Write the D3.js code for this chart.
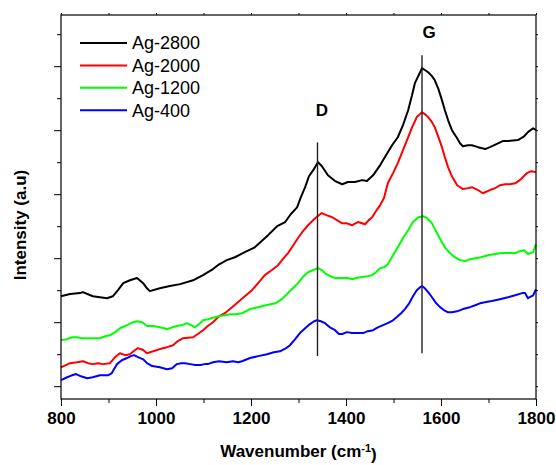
<!DOCTYPE html>
<html>
<head>
<meta charset="utf-8">
<script src="https://cdn.jsdelivr.net/npm/d3@7"></script>
<style>
  body { margin: 0; background: #fff; }
  svg text { font-family: "Liberation Sans", Arial, sans-serif; }
</style>
</head>
<body>
<div id="chart-area"></div>
<script>
// Raman spectra, intensity in arbitrary units (tick = 100)
var ag2800Wn = [800,819,840,846,867,882,897,909,920,931,945,960,973,981,987,1008,1029,1051,1078,1099,1120,1133,1149,1166,1187,1208,1236,1255,1272,1284,1297,1305,1314,1322,1331,1341,1349,1362,1377,1392,1404,1419,1434,1444,1457,1472,1482,1497,1509,1520,1531,1539,1545,1554,1560,1566,1573,1581,1587,1594,1602,1608,1615,1623,1634,1640,1646,1657,1665,1678,1693,1703,1720,1730,1741,1762,1775,1783,1794,1800];
var ag2800Int = [281,288,291,294,281,278,275,281,300,322,331,338,322,306,297,306,313,319,331,347,366,381,394,403,419,434,472,500,513,538,559,591,622,656,675,700,688,659,641,631,638,638,644,641,659,691,716,753,778,816,863,909,947,975,994,988,981,969,956,931,894,863,831,800,775,759,750,753,753,747,741,747,759,766,766,769,781,794,806,800];

var ag2000Wn = [800,819,834,846,857,867,878,888,903,914,924,935,945,956,962,973,981,994,1008,1023,1036,1046,1057,1078,1088,1099,1109,1120,1133,1145,1160,1173,1187,1202,1215,1229,1244,1257,1267,1278,1288,1299,1309,1320,1335,1349,1360,1371,1381,1392,1402,1413,1425,1434,1440,1448,1455,1463,1472,1480,1488,1499,1509,1520,1531,1539,1549,1560,1566,1573,1581,1587,1594,1602,1608,1615,1623,1634,1646,1657,1665,1678,1688,1703,1714,1724,1735,1745,1756,1766,1781,1790,1800];
var ag2000Int = [59,72,75,78,72,69,72,69,72,91,103,97,100,113,119,113,103,109,116,122,128,141,150,153,163,175,188,200,219,228,247,263,281,300,322,347,363,378,397,416,438,463,484,503,525,541,534,528,519,509,509,503,513,509,506,519,528,547,566,588,634,666,697,738,778,809,841,856,850,841,825,809,781,747,716,684,656,628,616,619,622,613,603,613,619,628,631,631,634,644,666,672,669];

var ag1200Wn = [800,813,823,834,844,855,867,882,893,903,914,924,939,952,960,971,981,994,1008,1017,1023,1034,1044,1055,1065,1074,1082,1091,1099,1109,1118,1133,1145,1156,1168,1181,1198,1215,1231,1251,1265,1278,1288,1299,1309,1320,1331,1341,1349,1356,1366,1377,1392,1404,1413,1421,1434,1446,1455,1463,1472,1480,1488,1499,1509,1520,1531,1541,1552,1562,1571,1581,1587,1594,1602,1608,1619,1629,1640,1651,1661,1672,1684,1699,1714,1728,1741,1756,1766,1775,1783,1794,1800];
var ag1200Int = [144,147,153,153,150,150,150,150,156,159,169,181,191,200,203,200,188,188,184,181,178,184,188,191,197,191,184,194,206,209,213,219,222,225,225,228,241,247,253,259,272,291,306,322,341,356,363,369,363,353,344,338,338,338,334,338,341,344,347,356,369,372,381,409,434,463,488,513,528,531,525,509,491,472,450,434,416,403,394,391,397,400,403,409,413,416,416,416,422,425,413,419,444];

var ag400Wn = [800,813,823,832,842,855,867,882,899,907,918,928,939,947,954,962,973,981,992,1008,1023,1034,1044,1053,1061,1072,1082,1093,1103,1109,1120,1133,1149,1162,1173,1181,1198,1215,1234,1248,1261,1274,1282,1293,1303,1314,1324,1333,1339,1347,1356,1366,1377,1385,1392,1402,1413,1425,1436,1446,1457,1467,1478,1488,1499,1507,1516,1524,1533,1541,1549,1556,1560,1566,1573,1581,1590,1598,1606,1615,1623,1634,1646,1661,1672,1682,1695,1707,1724,1741,1756,1771,1777,1783,1794,1800];
var ag400Int = [19,28,34,38,31,25,28,34,34,41,69,81,88,94,97,91,84,72,63,59,53,56,69,72,72,69,66,66,69,69,75,78,75,78,75,78,88,94,100,106,109,119,128,147,166,181,194,203,206,203,197,184,175,163,163,169,166,166,166,172,175,184,191,197,206,216,228,241,259,281,300,309,313,306,294,278,259,247,238,231,231,234,241,247,253,259,263,266,272,278,284,291,291,275,284,303];

var seriesNames = ['Ag-2800', 'Ag-2000', 'Ag-1200', 'Ag-400'];
var seriesColors = ['#000000', '#ff0000', '#00ff00', '#0000ff'];
var seriesWn = [ag2800Wn, ag2000Wn, ag1200Wn, ag400Wn];
var seriesInt = [ag2800Int, ag2000Int, ag1200Int, ag400Int];

// band markers: label, position, line span, label position
var bandLabels = ['D', 'G'];
var bandWn = [1340, 1560];
var bandTop = [762, 1034];
var bandBottom = [94, 103];
var bandLabelWn = [1349, 1575];
var bandLabelInt = [844, 1087];

var xMajor = [800, 1000, 1200, 1400, 1600, 1800];
var xMinor = [900, 1100, 1300, 1500, 1700];
var yMajor = [0, 200, 400, 600, 800, 1000];
var yMinor = [100, 300, 500, 700, 900, 1100];

var W = 556, H = 465;
var margin = { top: 15, bottom: 66, left: 61, right: 20 };
var width = W - margin.left - margin.right;
var height = H - margin.top - margin.bottom;

var svg = d3.select('#chart-area').append('svg')
	.attr('width', W)
	.attr('height', H);
var g = svg.append('g').attr('transform', `translate(${margin.left}, ${margin.top})`);

var x = d3.scaleLinear().domain([800, 1800]).range([0, width]);
var y = d3.scaleLinear().domain([-40, 1160]).range([height, 0]);

function styleAxis(sel) {
	sel.select('.domain').remove();
	sel.selectAll('line').attr('stroke', '#000').attr('stroke-width', 1);
	sel.selectAll('text')
		.attr('font-family', '"Liberation Sans", Arial, sans-serif')
		.attr('font-size', '17px')
		.attr('font-weight', 'bold')
		.attr('fill', '#000');
}

// bottom axis
g.append('g').attr('transform', `translate(0, ${height})`)
	.call(d3.axisBottom(x).tickValues(xMajor).tickSize(7).tickPadding(6).tickFormat(d3.format('d')))
	.call(styleAxis);
g.append('g').attr('transform', `translate(0, ${height})`)
	.call(d3.axisBottom(x).tickValues(xMinor).tickSize(4).tickFormat(''))
	.call(styleAxis);
// top axis
g.append('g')
	.call(d3.axisTop(x).tickValues(xMajor.concat(xMinor)).tickSize(2).tickFormat(''))
	.call(styleAxis);
// left axis
g.append('g')
	.call(d3.axisLeft(y).tickValues(yMajor).tickSize(7).tickFormat(''))
	.call(styleAxis);
g.append('g')
	.call(d3.axisLeft(y).tickValues(yMinor).tickSize(4).tickFormat(''))
	.call(styleAxis);
// right axis
g.append('g').attr('transform', `translate(${width}, 0)`)
	.call(d3.axisRight(y).tickValues(yMajor.concat(yMinor)).tickSize(2).tickFormat(''))
	.call(styleAxis);

var line = d3.line()
	.x(d => x(d[0]))
	.y(d => y(d[1]));

seriesNames.forEach((name, i) => {
	var pts = seriesWn[i].map((wn, j) => [wn, seriesInt[i][j]]);
	g.append('path')
		.datum(pts)
		.attr('fill', 'none')
		.attr('stroke', seriesColors[i])
		.attr('stroke-width', 2)
		.attr('stroke-linejoin', 'round')
		.attr('d', line);
});

// D and G band markers
bandLabels.forEach((lab, i) => {
	g.append('line')
		.attr('x1', x(bandWn[i])).attr('x2', x(bandWn[i]))
		.attr('y1', y(bandTop[i])).attr('y2', y(bandBottom[i]))
		.attr('stroke', '#222')
		.attr('stroke-width', 1.4);
	g.append('text')
		.attr('x', x(bandLabelWn[i]))
		.attr('y', y(bandLabelInt[i]))
		.attr('text-anchor', 'middle')
		.attr('font-size', '17px')
		.attr('font-weight', 'bold')
		.text(lab);
});

// frame
g.append('rect')
	.attr('width', width).attr('height', height)
	.attr('fill', 'none')
	.attr('stroke', '#000')
	.attr('stroke-width', 1.2);

// legend
var legend = g.append('g').attr('transform', 'translate(19, 28)');
seriesNames.forEach((name, i) => {
	var row = legend.append('g').attr('transform', `translate(0, ${i * 22.4})`);
	row.append('line')
		.attr('x1', 0).attr('x2', 47)
		.attr('stroke', seriesColors[i])
		.attr('stroke-width', 2);
	row.append('text')
		.attr('x', 52)
		.attr('y', 0)
		.attr('dy', '0.36em')
		.attr('font-size', '18px')
		.text(name);
});

// axis titles
var xTitle = g.append('text')
	.attr('x', width / 2)
	.attr('y', height + 58)
	.attr('text-anchor', 'middle')
	.attr('font-size', '17px')
	.attr('font-weight', 'bold');
xTitle.append('tspan').text('Wavenumber (cm');
xTitle.append('tspan').attr('dy', '-0.5em').attr('font-size', '11px').text('-1');
xTitle.append('tspan').attr('dy', '0.5em').text(')');

svg.append('text')
	.attr('transform', 'translate(26, 225) rotate(-90)')
	.attr('text-anchor', 'middle')
	.attr('font-size', '17px')
	.attr('font-weight', 'bold')
	.text('Intensity (a.u)');
</script>
</body>
</html>
